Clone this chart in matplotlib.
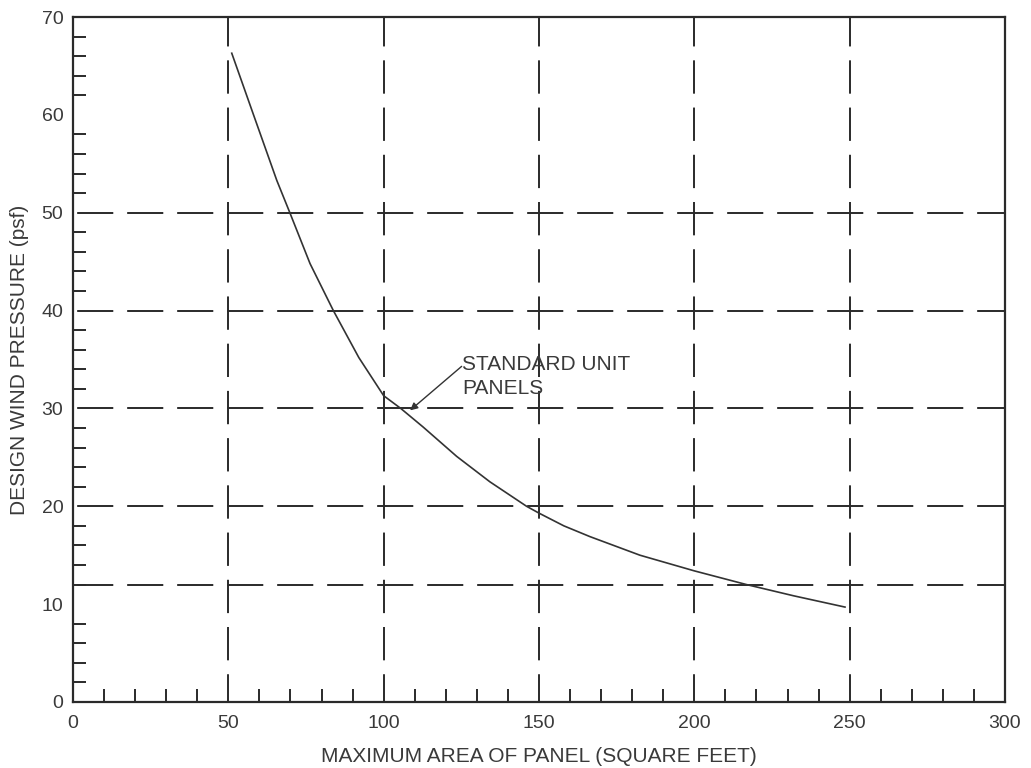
import matplotlib
matplotlib.use("Agg")
import matplotlib.pyplot as plt
from matplotlib.ticker import MultipleLocator

plt.rcParams['font.family'] = ['Liberation Sans', 'DejaVu Sans']
plt.rcParams['lines.scale_dashes'] = False

# Data
area = [51.1, 58.0, 65.6, 69.8, 76.3, 83.8, 92.0, 100.0, 105.5, 112.7, 123.5, 134.2,
        146.0, 150.0, 158.0, 166.4, 182.5, 200.0, 216.8, 232.0, 248.5]
pressure = [66.3, 60.1, 53.3, 50.0, 44.8, 40.0, 35.2, 31.3, 30.0, 28.1, 25.1, 22.5,
            20.0, 19.3, 18.0, 16.9, 15.0, 13.4, 12.0, 10.85, 9.7]

vgrid = [50, 100, 150, 200, 250]
hgrid = [12, 20, 30, 40, 50]
xticks = [0, 50, 100, 150, 200, 250, 300]
yticks = [0, 10, 20, 30, 40, 50, 60, 70]

annot_text = "STANDARD UNIT\nPANELS"
annot_tip = (108.5, 29.8)
annot_tail = (125.1, 34.3)
annot_text_pos = (125.2, 35.45)

txt_color = '#3a3a3a'
line_color = '#2a2a2a'

fig = plt.figure(figsize=(10.31, 7.68), dpi=100)
ax = fig.add_axes([73/1031, 66/768, 932/1031, 685/768])

ax.set_xlim(0, 300)
ax.set_ylim(0, 70)

for xv in vgrid:
    ax.axvline(xv, color=line_color, lw=1.4, linestyle=(4, (24, 10)), zorder=1)
for yv in hgrid:
    ax.axhline(yv, color=line_color, lw=1.4, linestyle=(-3, (26, 10)), zorder=1)

ax.plot(area, pressure, color='#333333', lw=1.2, zorder=3)

ax.text(annot_text_pos[0], annot_text_pos[1], annot_text, fontsize=15,
        color=txt_color, ha='left', va='top', linespacing=1.31)
ax.annotate('', xy=annot_tip, xytext=annot_tail,
            arrowprops=dict(arrowstyle='-|>', color='#333333', lw=1.0,
                            mutation_scale=11, shrinkA=0, shrinkB=0))

ax.set_xticks(xticks)
ax.set_yticks(yticks)
ax.xaxis.set_minor_locator(MultipleLocator(10))
ax.yaxis.set_minor_locator(MultipleLocator(2))
ax.tick_params(which='major', length=0, labelsize=14, labelcolor=txt_color)
ax.tick_params(axis='x', which='major', pad=9)
ax.tick_params(axis='y', which='major', pad=7)
ax.tick_params(which='minor', direction='in', length=9.4, width=1.4, color=line_color)

for s in ax.spines.values():
    s.set_linewidth(1.6)
    s.set_color(line_color)

ax.set_xlabel("MAXIMUM AREA OF PANEL (SQUARE FEET)", fontsize=15, color=txt_color, labelpad=11)
ax.set_ylabel("DESIGN WIND PRESSURE (psf)", fontsize=15, color=txt_color, labelpad=9)

fig.savefig("out.png", dpi=100)
